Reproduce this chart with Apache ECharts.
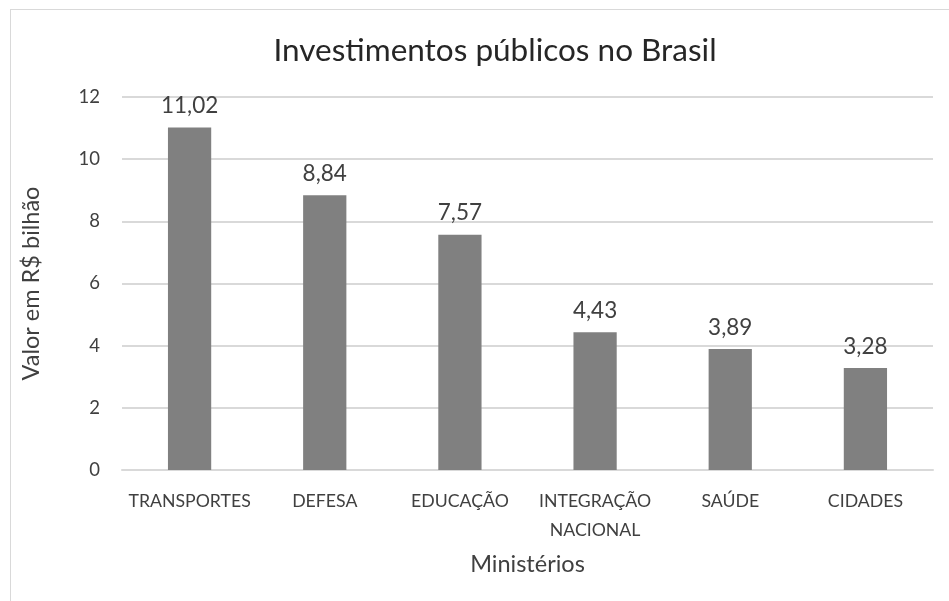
<!DOCTYPE html>
<html><head><meta charset="utf-8">
<script src="https://cdn.jsdelivr.net/npm/echarts@6/dist/echarts.min.js"></script>
<style>html,body{margin:0;padding:0;background:#fff}#c{width:949px;height:601px;position:relative}
#frame{position:absolute;left:10px;top:9px;width:960px;height:620px;border:1px solid #d9d9d9;box-sizing:border-box;pointer-events:none}</style>
</head><body><div id="c"></div><div id="frame"></div>
<script>
const categories = ['TRANSPORTES','DEFESA','EDUCAÇÃO','INTEGRAÇÃO\nNACIONAL','SAÚDE','CIDADES'];
const values = [11.02, 8.84, 7.57, 4.43, 3.89, 3.28];
const yTicks = [0, 2, 4, 6, 8, 10, 12];
const chart = echarts.init(document.getElementById('c'));
const F = 'Lato, "Open Sans", sans-serif';
chart.setOption({
  animation:false,
  title:{text:'Investimentos públicos no Brasil', left:490, top:30, textAlign:'center',
    textStyle:{fontFamily:F, fontSize:31.5, fontWeight:'normal', color:'#262626'}},
  grid:{left:122, right:16, top:97, bottom:131, containLabel:false},
  xAxis:{type:'category', data:categories, name:'Ministérios', nameLocation:'middle', nameGap:82,
    nameTextStyle:{fontFamily:F, fontSize:23.5, color:'#404040'},
    axisLine:{lineStyle:{color:'#d9d9d9', width:2}}, axisTick:{show:false},
    axisLabel:{fontFamily:F, fontSize:17.7, color:'#404040', margin:17, lineHeight:29, interval:0}},
  yAxis:{type:'value', min:yTicks[0], max:yTicks[yTicks.length-1], interval:2,
    name:'Valor em R$ bilhão', nameLocation:'middle', nameGap:79, nameRotate:90,
    nameTextStyle:{fontFamily:F, fontSize:23.5, color:'#404040'},
    axisLine:{show:false}, axisTick:{show:false},
    splitLine:{lineStyle:{color:'#d9d9d9', width:2}},
    axisLabel:{fontFamily:F, fontSize:18.5, color:'#404040', margin:22,
      formatter:v=>String(v)}},
  series:[{type:'bar', data:values, barWidth:'32%', itemStyle:{color:'#808080'},
    label:{show:true, position:'top', distance:10, fontFamily:F, fontSize:22.5, color:'#404040',
      formatter:p=>p.value.toFixed(2).replace('.', ',')}}]
});
</script></body></html>
